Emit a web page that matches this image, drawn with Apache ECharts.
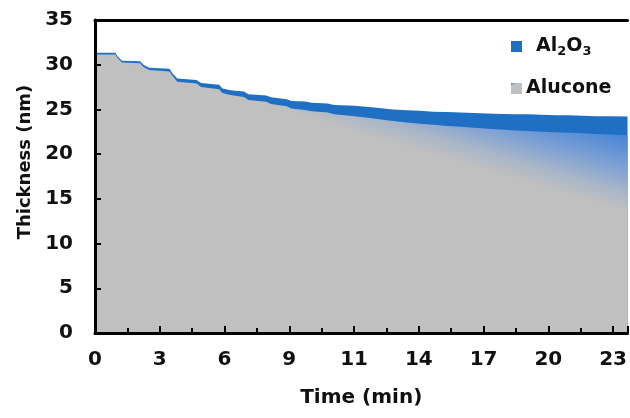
<!DOCTYPE html>
<html>
<head>
<meta charset="utf-8">
<script src="https://cdn.jsdelivr.net/npm/echarts@6/dist/echarts.min.js"></script>
<style>html,body{margin:0;padding:0;background:#fff;}#c{width:630px;height:418px;}</style>
</head>
<body>
<div id="c"></div>
<script>
// Time (min)
const timeMin = [0.00,0.90,1.00,1.20,2.00,2.15,2.40,3.30,3.45,3.65,4.50,4.70,5.50,5.65,6.00,6.60,6.80,7.60,7.80,8.50,8.70,9.30,9.60,10.30,10.60,11.50,12.00,12.60,13.20,13.80,14.40,15.00,15.60,16.20,16.80,17.40,18.00,18.60,19.20,19.80,20.40,21.00,21.60,22.20,22.80,23.60];
// Total thickness (top of Al2O3), nm
const totalNm = [31.35,31.35,30.95,30.45,30.40,30.00,29.65,29.55,29.00,28.45,28.30,27.95,27.75,27.35,27.15,27.00,26.70,26.55,26.35,26.15,25.95,25.90,25.75,25.65,25.50,25.40,25.30,25.15,25.00,24.90,24.85,24.75,24.70,24.65,24.60,24.55,24.50,24.45,24.45,24.40,24.35,24.35,24.30,24.25,24.25,24.20];
// Alucone thickness, nm
const aluconeNm = [31.15,31.15,30.75,30.25,30.15,29.75,29.40,29.25,28.70,28.10,27.90,27.50,27.25,26.85,26.60,26.40,26.05,25.85,25.60,25.35,25.10,24.95,24.80,24.65,24.45,24.25,24.10,23.90,23.70,23.55,23.40,23.30,23.15,23.05,22.95,22.85,22.75,22.65,22.60,22.50,22.45,22.40,22.35,22.25,22.20,22.10];
// Boundary of the mixed (gradient) zone: [time, thickness]
const mixStart = [0, 31.0];
const mixEnd = [23.6, 13.5];
// Tick labels
const xTickLabels = ['0','3','6','9','11','14','17','20','23'];
const xTickStep = 2.87;
const xMax = 23.6;

const FONT = '"DejaVu Sans", sans-serif';
const BLUE = '#1f6fc4';
const GRAY = '#c0c0c0';

const chart = echarts.init(document.getElementById('c'));
const pairs = (ys) => timeMin.map((t, i) => [t, ys[i]]);

const labelStyle = {fontFamily: FONT, fontWeight: 'bold', fontSize: 20, color: '#111'};
const axisLine = {show: true, lineStyle: {color: '#000', width: 3}};

function buildOption(grad) {
  return {
    animation: false,
    grid: {left: 95, right: 0, top: 20, bottom: 85},
    xAxis: [{
      type: 'value', min: 0, max: xMax, interval: xTickStep, z: 10,
      axisLine: axisLine,
      axisTick: {show: true, inside: true, length: 7, lineStyle: {color: '#000', width: 2}},
      minorTick: {show: true, splitNumber: 2, length: 5, lineStyle: {color: '#000', width: 2}},
      splitLine: {show: false},
      axisLabel: Object.assign({margin: 17, showMaxLabel: false,
        formatter: v => { const i = Math.round(v / xTickStep); return xTickLabels[i] !== undefined ? xTickLabels[i] : ''; }}, labelStyle),
      name: 'Time (min)', nameLocation: 'middle', nameGap: 55,
      nameTextStyle: {fontFamily: FONT, fontWeight: 'bold', fontSize: 20, color: '#111'}
    }, {
      type: 'value', position: 'top', min: 0, max: xMax, z: 10,
      axisLine: axisLine, axisTick: {show: false}, axisLabel: {show: false}, splitLine: {show: false}
    }],
    yAxis: {
      type: 'value', min: 0, max: 35, interval: 5, z: 10,
      axisLine: axisLine,
      axisTick: {show: true, inside: true, length: 6, lineStyle: {color: '#000', width: 2}},
      splitLine: {show: false},
      axisLabel: Object.assign({margin: 22}, labelStyle)
    },
    graphic: [{
      type: 'text', x: 25, y: 162, rotation: Math.PI / 2,
      style: {text: 'Thickness (nm)', fontFamily: FONT, fontWeight: 'bold', fontSize: 18, fill: '#111',
        textAlign: 'center', textVerticalAlign: 'middle'}
    }],
    legend: [{
      data: [{name: 'Al2O3', icon: 'rect', itemStyle: {color: BLUE}}],
      left: 511, top: 37, padding: 0, itemWidth: 11, itemHeight: 11, itemGap: 0,
      formatter: () => '{p|}{n|Al}{s|2}{n|O}{s|3}',
      textStyle: {rich: {
        p: {width: 9},
        n: {fontFamily: FONT, fontWeight: 'bold', fontSize: 19, color: '#111'},
        s: {fontFamily: FONT, fontWeight: 'bold', fontSize: 13, color: '#111', padding: [10, 0, 0, 0]}
      }}
    }, {
      data: [{name: 'Alucone', icon: 'rect', itemStyle: {color: new echarts.graphic.LinearGradient(0, 0, 0.6, 1, [
        {offset: 0, color: '#4a86d2'}, {offset: 0.25, color: '#c0c0c0'}, {offset: 1, color: '#c0c0c0'}])}}],
      left: 511, top: 79, padding: 0, itemWidth: 11, itemHeight: 11, itemGap: 0,
      textStyle: {fontFamily: FONT, fontWeight: 'bold', fontSize: 19, color: '#111', padding: [0, 0, 0, -1]}
    }],
    series: [{
      name: 'Al2O3', type: 'line', data: pairs(totalNm), showSymbol: false, symbol: 'none',
      lineStyle: {width: 0}, itemStyle: {color: BLUE},
      areaStyle: {color: BLUE, opacity: 1}, z: 1
    }, {
      name: 'Alucone', type: 'line', data: pairs(aluconeNm), showSymbol: false, symbol: 'none',
      lineStyle: {width: 0}, itemStyle: {color: GRAY},
      areaStyle: {color: grad || GRAY, opacity: 1}, z: 2
    }]
  };
}

chart.setOption(buildOption(null));
// Gradient perpendicular to the mixed-zone boundary, in pixel space
const p0 = chart.convertToPixel({gridIndex: 0}, mixStart);
const p1 = chart.convertToPixel({gridIndex: 0}, mixEnd);
const dx = p1[0] - p0[0], dy = p1[1] - p0[1];
const len = Math.hypot(dx, dy);
const nx = dy / len, ny = -dx / len; // normal pointing upward
const mx = (p0[0] + p1[0]) / 2, my = (p0[1] + p1[1]) / 2;
const D = 72;
const grad = new echarts.graphic.LinearGradient(mx, my, mx + nx * D, my + ny * D, [
  {offset: 0, color: '#c0c0c0'},
  {offset: 0.25, color: '#a9b6c8'},
  {offset: 0.6, color: '#7a9fd4'},
  {offset: 1, color: '#4a86d6'}
], true);
chart.setOption(buildOption(grad));
</script>
</body>
</html>
